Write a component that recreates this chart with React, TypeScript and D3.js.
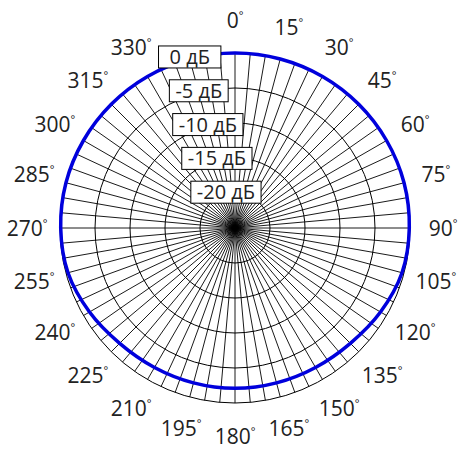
import * as d3 from 'd3';
import { useEffect, useRef } from 'react';

// pattern, dB, every 15 degrees (clockwise from top)
const patternAngles = [0, 15, 30, 45, 60, 75, 90, 105, 120, 135, 150, 165, 180, 195, 210, 225, 240, 255, 270, 285, 300, 315, 330, 345];
const patternDb = [0, 0, 0, 0, 0, 0, -0.1, -0.3, -1.0, -1.7, -2.0, -2.1, -2.1, -2.1, -2.0, -1.7, -1.0, -0.3, -0.1, 0, 0, 0, 0, 0];

const ringDb = [0, -5, -10, -15, -20];
const ringLabels = ['0 дБ', '-5 дБ', '-10 дБ', '-15 дБ', '-20 дБ'];
// 345 is not labelled in the original
const angleLabels = d3.range(0, 345, 15);
const spokeAngles = d3.range(0, 360, 5);

function App() {
  const svgRef = useRef<SVGSVGElement>(null);

  useEffect(() => {
    if (!svgRef.current) {
      return;
    }
    document.body.style.margin = '0';
    const svg = d3.select(svgRef.current);
    svg.selectAll('*').remove();

    const cx = 235;
    const cy = 228;
    const rScale = d3.scaleLinear().domain([-25, 0]).range([0, 175]);
    const rad = (deg: number) => (deg * Math.PI) / 180;

    const g = svg.append('g').attr('transform', `translate(${cx},${cy})`);

    // spokes
    g.selectAll('line.spoke')
      .data(spokeAngles)
      .enter()
      .append('line')
      .attr('x1', 0)
      .attr('y1', 0)
      .attr('x2', (d) => rScale(0) * Math.sin(rad(d)))
      .attr('y2', (d) => -rScale(0) * Math.cos(rad(d)))
      .attr('stroke', '#000')
      .attr('stroke-width', 0.9);

    // rings
    g.selectAll('circle.ring')
      .data(ringDb)
      .enter()
      .append('circle')
      .attr('r', (d) => rScale(d))
      .attr('fill', 'none')
      .attr('stroke', '#000')
      .attr('stroke-width', 1);

    // pattern
    const line = d3
      .lineRadial<number>()
      .angle((_, i) => rad(patternAngles[i]))
      .radius((d) => rScale(d))
      .curve(d3.curveCardinalClosed);

    g.append('path')
      .datum(patternDb)
      .attr('d', line)
      .attr('fill', 'none')
      .attr('stroke', '#0000dc')
      .attr('stroke-width', 3.5);

    // angle labels
    const labelR = 208;
    angleLabels.forEach((a) => {
      const t = g
        .append('text')
        .attr('x', labelR * Math.sin(rad(a)))
        .attr('y', -labelR * Math.cos(rad(a)) + 7.5)
        .attr('text-anchor', 'middle')
        .style('font-family', '"Open Sans", sans-serif')
        .style('font-size', '21px')
        .style('fill', '#222');
      t.append('tspan').text(String(a));
      t.append('tspan').attr('dy', -9).style('font-size', '11px').text('°');
    });

    // ring labels
    ringDb.forEach((d, i) => {
      const r = rScale(d);
      const x = r * Math.sin(rad(345));
      const y = -r * Math.cos(rad(345)) - 2;
      const lg = g.append('g');
      const rect = lg.append('rect').attr('fill', '#fff').attr('stroke', '#000').attr('stroke-width', 1);
      const txt = lg
        .append('text')
        .attr('x', x)
        .attr('y', y + 7)
        .attr('text-anchor', 'middle')
        .style('font-family', '"Open Sans", sans-serif')
        .style('font-size', '20px')
        .style('fill', '#222')
        .text(ringLabels[i]);
      const bb = (txt.node() as SVGTextElement).getBBox();
      const pad = i === 0 ? 11 : 6;
      rect
        .attr('x', bb.x - pad)
        .attr('y', y - 11)
        .attr('width', bb.width + pad * 2)
        .attr('height', 22);
    });
  }, []);

  return (
    <svg
      ref={svgRef}
      width={460}
      height={460}
      style={{ position: 'absolute', left: 0, top: 0, background: '#fff' }}
    />
  );
}

export default App;
